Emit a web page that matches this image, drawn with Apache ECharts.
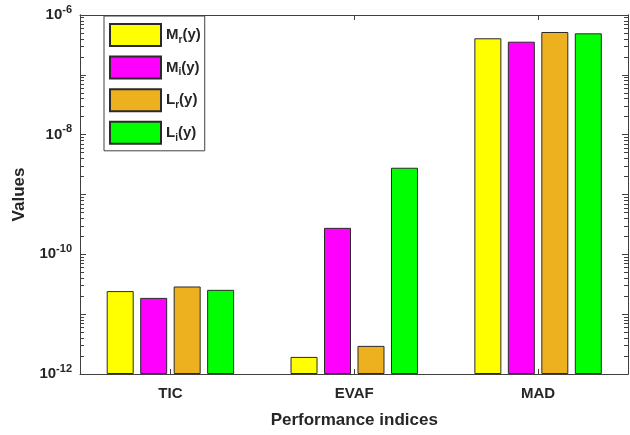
<!DOCTYPE html>
<html>
<head>
<meta charset="utf-8">
<script src="https://cdn.jsdelivr.net/npm/echarts@6/dist/echarts.min.js"></script>
<style>
  html, body { margin: 0; padding: 0; background: #fff; }
  #chart { width: 630px; height: 435px; }
</style>
</head>
<body>
<div id="chart"></div>
<script>
// Performance indices per method (log scale values)
const categories = ['TIC', 'EVAF', 'MAD'];
const seriesNames = ['Mr(y)', 'Mi(y)', 'Lr(y)', 'Li(y)'];
const mrValues = [2.43e-11, 1.93e-12, 4.08e-7];
const miValues = [1.87e-11, 2.77e-10, 3.58e-7];
const lrValues = [2.90e-11, 2.95e-12, 5.20e-7];
const liValues = [2.55e-11, 2.80e-9, 4.94e-7];
const seriesColors = ['#ffff00', '#ff00ff', '#edb120', '#00ff00'];
// exponents of the labelled decades
const yLabelExponents = [-12, -10, -8, -6];
const yMin = 1e-12;
const yMax = 1e-6;
const expMin = -12;
const expMax = -6;

// decade and sub-decade tick positions for the frame (in exponent units)
const majorTicks = [];
const minorTicks = [];
for (let e = expMin; e <= expMax; e++) {
  majorTicks.push(e);
  if (e < expMax) {
    for (let m = 2; m <= 9; m++) minorTicks.push(e + Math.log10(m));
  }
}

const FONT = 'Liberation Sans, Arial, sans-serif';
const TEXT = '#262626';
const LINE = '#404040';

const seriesData = [mrValues, miValues, lrValues, liValues];

const chart = echarts.init(document.getElementById('chart'), null, { renderer: 'canvas' });

// value axis in exponent units drawing the log frame ticks
function frameY(gridIndex, position, withLabels, ticks, len) {
  return {
    type: 'value',
    gridIndex: gridIndex,
    position: position,
    min: expMin,
    max: expMax,
    axisLine: { show: true, onZero: false, lineStyle: { color: LINE, width: 1 } },
    axisTick: { show: true, inside: true, length: len, customValues: ticks, lineStyle: { color: LINE, width: 1 } },
    axisLabel: withLabels ? {
      show: true,
      customValues: yLabelExponents,
      margin: 8,
      color: TEXT,
      fontFamily: FONT,
      fontSize: 15,
      fontWeight: 'bold',
      formatter: v => '10{s|' + Math.round(v) + '}',
      rich: {
        s: { fontFamily: FONT, fontSize: 11, fontWeight: 'bold', color: TEXT, padding: [0, 0, 11, 0] }
      }
    } : { show: true, customValues: [], color: 'rgba(0,0,0,0)' },
    splitLine: { show: false }
  };
}

function hiddenX(gridIndex) {
  return { type: 'value', gridIndex: gridIndex, min: 0, max: 1, show: false };
}

const plotBox = { top: 15, height: 359, show: false };

const option = {
  backgroundColor: '#ffffff',
  animation: false,
  grid: [
    // frame of the plot box
    Object.assign({ left: 80, width: 548 }, plotBox),
    // bar layout area
    Object.assign({ left: 78.5, width: 555 }, plotBox),
    // sub-decade ticks of the frame
    Object.assign({ left: 80, width: 548 }, plotBox)
  ],
  legend: {
    orient: 'vertical',
    left: 104,
    top: 16,
    padding: [7, 4, 6, 5],
    itemWidth: 51,
    itemHeight: 22,
    itemGap: 8.6,
    icon: 'rect',
    borderColor: LINE,
    borderWidth: 1,
    backgroundColor: '#fff',
    data: seriesNames,
    formatter: name => '{a|' + name[0] + '}{s|' + name[1] + '}{a|' + name.slice(2) + '}',
    textStyle: {
      color: TEXT,
      fontFamily: FONT,
      fontSize: 15,
      fontWeight: 'bold',
      rich: {
        a: { fontFamily: FONT, fontSize: 15, fontWeight: 'bold', color: TEXT },
        s: { fontFamily: FONT, fontSize: 10, fontWeight: 'bold', color: TEXT, padding: [10, 0, 0, 0] }
      }
    }
  },
  xAxis: [
    { type: 'value', gridIndex: 0, position: 'bottom', min: 0, max: 1,
      axisLine: { show: true, onZero: false, lineStyle: { color: LINE } },
      axisTick: { show: false }, axisLabel: { show: false }, splitLine: { show: false } },
    { type: 'value', gridIndex: 0, position: 'top', min: 0, max: 1,
      axisLine: { show: true, onZero: false, lineStyle: { color: LINE } },
      axisTick: { show: false }, axisLabel: { show: false }, splitLine: { show: false } },
    { type: 'category', gridIndex: 1, position: 'bottom', data: categories,
      axisLine: { show: false, onZero: false },
      axisTick: { show: true, inside: true, alignWithLabel: true, length: 5, lineStyle: { color: LINE } },
      axisLabel: { color: TEXT, fontFamily: FONT, fontSize: 15, fontWeight: 'bold', margin: 12 },
      name: 'Performance indices',
      nameLocation: 'middle',
      nameGap: 38,
      nameTextStyle: { color: TEXT, fontFamily: FONT, fontSize: 17, fontWeight: 'bold' } },
    { type: 'category', gridIndex: 1, position: 'top', data: categories,
      axisLine: { show: false, onZero: false },
      axisTick: { show: true, inside: true, alignWithLabel: true, length: 5, lineStyle: { color: LINE } },
      axisLabel: { show: false } },
    hiddenX(2)
  ],
  yAxis: [
    Object.assign(frameY(0, 'left', true, majorTicks, 6), {
      name: 'Values',
      nameLocation: 'middle',
      nameGap: 52,
      nameTextStyle: { color: TEXT, fontFamily: FONT, fontSize: 17, fontWeight: 'bold' }
    }),
    frameY(2, 'left', false, minorTicks, 4),
    frameY(0, 'right', false, majorTicks, 6),
    frameY(2, 'right', false, minorTicks, 4),
    { type: 'log', logBase: 10, gridIndex: 1, min: yMin, max: yMax, startValue: yMin, show: false }
  ],
  series: seriesNames.map((name, i) => ({
    name: name,
    type: 'bar',
    xAxisIndex: 2,
    yAxisIndex: 4,
    barWidth: 27,
    barGap: '24%',
    data: seriesData[i],
    itemStyle: { color: seriesColors[i], borderColor: '#2a2a2a', borderWidth: 1 }
  }))
};

chart.setOption(option);
</script>
</body>
</html>
